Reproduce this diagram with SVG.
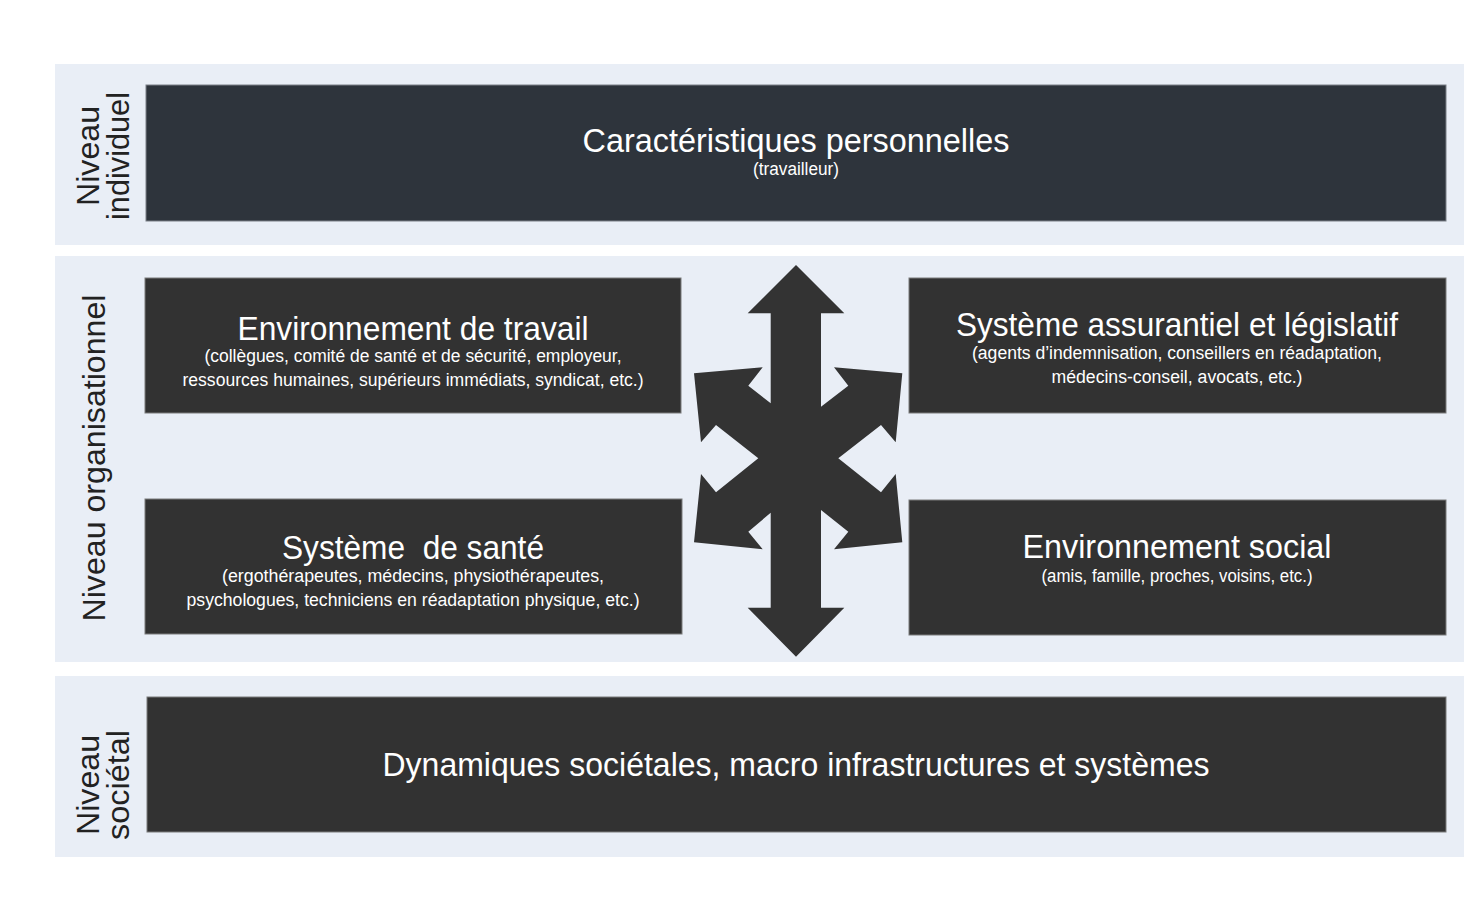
<svg xmlns="http://www.w3.org/2000/svg" width="1484" height="914" viewBox="0 0 1484 914">
<style>
.band{fill:#e9eef6}
.box{fill:#323232;stroke:#7a7a7a;stroke-width:1}
.boxtop{fill:#2e343c;stroke:#7a7f86;stroke-width:1}
.t{font-family:"Liberation Sans",Arial,sans-serif;fill:#ffffff;text-anchor:middle}
.title{font-size:33px}
.sub{font-size:18px}
.lvl{font-family:"Liberation Sans",Arial,sans-serif;fill:#222222;font-size:32px;text-anchor:middle}
.arrow{fill:#333333}
</style>
<rect width="1484" height="914" fill="#ffffff"/>
<g id="bands">
<rect class="band" x="55" y="64" width="1409" height="181"/>
<rect class="band" x="55" y="256" width="1409" height="406"/>
<rect class="band" x="55" y="676" width="1409" height="181"/>
</g>
<g id="labels">
<text class="lvl" transform="translate(99,156) rotate(-90)" textLength="100" lengthAdjust="spacingAndGlyphs">Niveau</text>
<text class="lvl" transform="translate(129,156) rotate(-90)" textLength="128" lengthAdjust="spacingAndGlyphs">individuel</text>
<text class="lvl" transform="translate(105,458) rotate(-90)" textLength="327" lengthAdjust="spacingAndGlyphs">Niveau organisationnel</text>
<text class="lvl" transform="translate(99,785) rotate(-90)" textLength="100" lengthAdjust="spacingAndGlyphs">Niveau</text>
<text class="lvl" transform="translate(129,785) rotate(-90)" textLength="110" lengthAdjust="spacingAndGlyphs">sociétal</text>
</g>
<g id="node-individuel">
<rect class="boxtop" x="146" y="85" width="1300" height="136"/>
<text class="t" x="796" y="152" style="font-size:34px" textLength="427" lengthAdjust="spacingAndGlyphs">Caractéristiques personnelles</text>
<text class="t sub" x="796" y="175" textLength="86" lengthAdjust="spacingAndGlyphs">(travailleur)</text>
</g>
<g id="node-travail">
<rect class="box" x="145" y="278" width="536" height="135"/>
<text class="t title" x="413" y="340" textLength="351" lengthAdjust="spacingAndGlyphs">Environnement de travail</text>
<text class="t sub" x="413" y="362" textLength="417" lengthAdjust="spacingAndGlyphs">(collègues, comité de santé et de sécurité, employeur,</text>
<text class="t sub" x="413" y="386" textLength="461" lengthAdjust="spacingAndGlyphs">ressources humaines, supérieurs immédiats, syndicat, etc.)</text>
</g>
<g id="node-assurantiel">
<rect class="box" x="909" y="278" width="537" height="135"/>
<text class="t title" x="1177" y="336" textLength="442" lengthAdjust="spacingAndGlyphs">Système assurantiel et législatif</text>
<text class="t sub" x="1177" y="359" textLength="410" lengthAdjust="spacingAndGlyphs">(agents d’indemnisation, conseillers en réadaptation,</text>
<text class="t sub" x="1177" y="383" textLength="251" lengthAdjust="spacingAndGlyphs">médecins-conseil, avocats, etc.)</text>
</g>
<g id="node-sante">
<rect class="box" x="145" y="499" width="537" height="135"/>
<text class="t title" x="413" y="559" textLength="262" lengthAdjust="spacingAndGlyphs" xml:space="preserve">Système  de santé</text>
<text class="t sub" x="413" y="582" textLength="382" lengthAdjust="spacingAndGlyphs">(ergothérapeutes, médecins, physiothérapeutes,</text>
<text class="t sub" x="413" y="606" textLength="453" lengthAdjust="spacingAndGlyphs">psychologues, techniciens en réadaptation physique, etc.)</text>
</g>
<g id="node-social">
<rect class="box" x="909" y="500" width="537" height="135"/>
<text class="t title" x="1177" y="558" textLength="309" lengthAdjust="spacingAndGlyphs">Environnement social</text>
<text class="t sub" x="1177" y="582" textLength="271" lengthAdjust="spacingAndGlyphs">(amis, famille, proches, voisins, etc.)</text>
</g>
<g id="node-societal">
<rect class="box" x="147" y="697" width="1299" height="135"/>
<text class="t" x="796" y="776" style="font-size:34px" textLength="827" lengthAdjust="spacingAndGlyphs">Dynamiques sociétales, macro infrastructures et systèmes</text>
</g>
<g id="connectors">
<path class="arrow" d="M796,265 L844.3,313.3 L821,313.3 L821,406.7 L848.3,385.7 L834,367.3 L902.3,373.3 L895.7,442.3 L881,425 L838.3,458.3 L881,492.3 L895.7,474 L902.3,542.3 L834,549.3 L848.3,531.7 L821,510 L821,607.7 L844.3,607.7 L796,656.7 L747.7,607.7 L770.7,607.7 L770.7,512.7 L748.3,531.7 L762.7,549.3 L694,542.3 L701,474 L716,492.3 L758.3,458.3 L716,425 L701,442.3 L694,373.3 L762.7,367.3 L748.3,385.7 L770.7,403.3 L770.7,313.3 L747.7,313.3 Z"/>
</g>
</svg>
